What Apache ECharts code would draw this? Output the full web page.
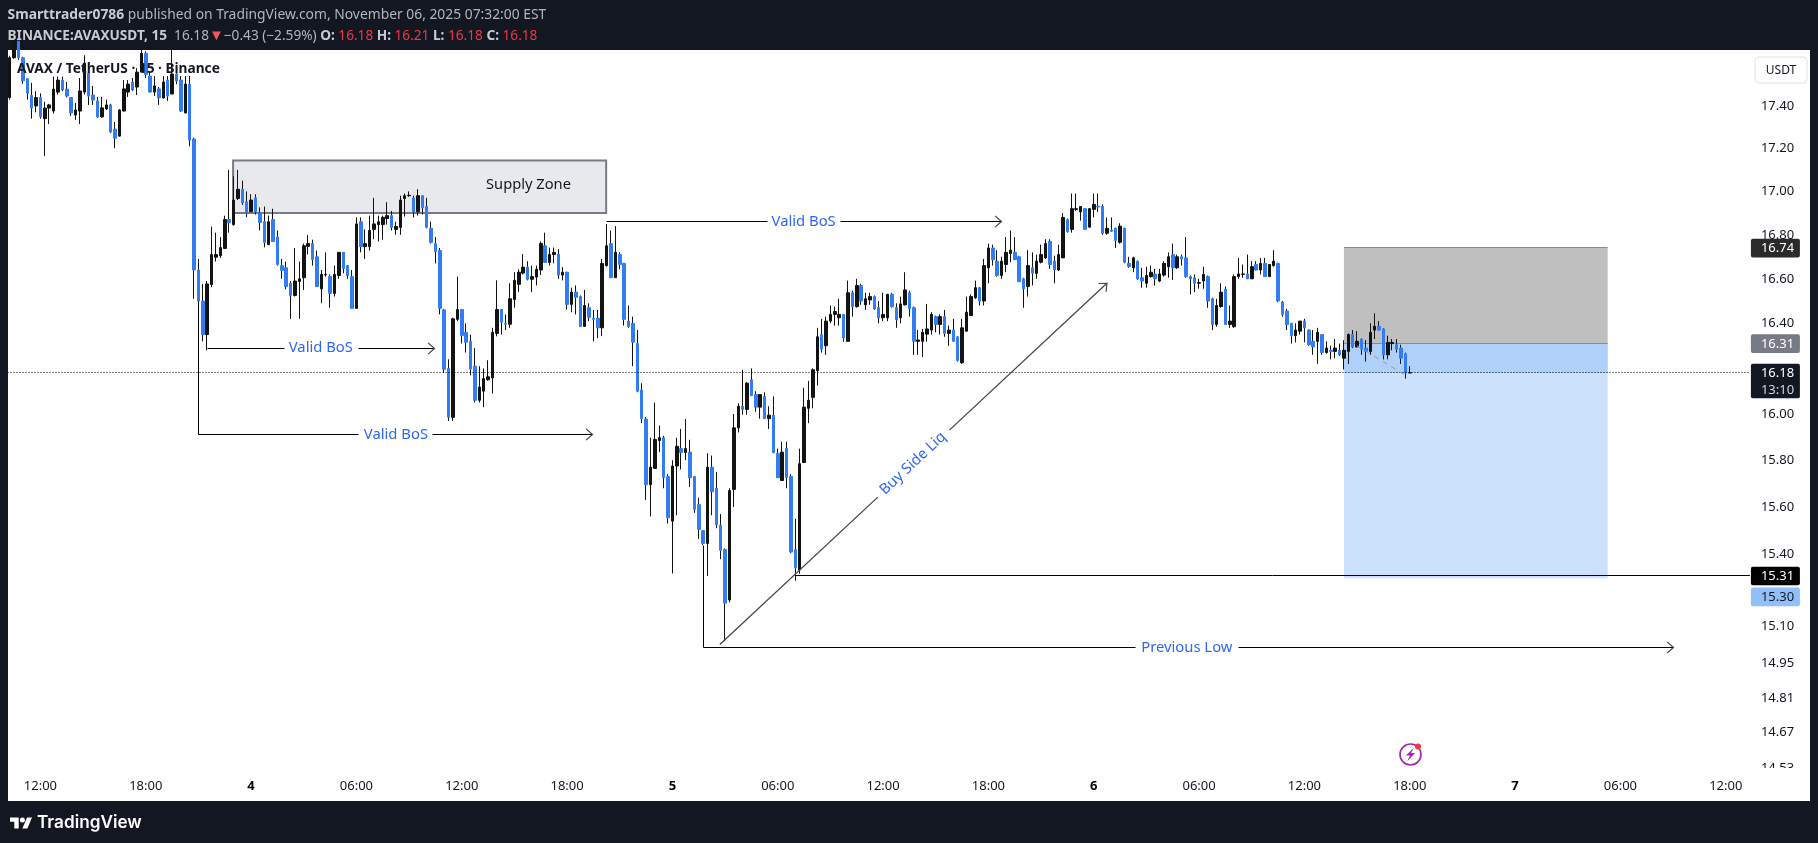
<!DOCTYPE html>
<html><head><meta charset="utf-8">
<style>html,body{margin:0;padding:0;background:#131722;overflow:hidden}#c{width:1818px;height:843px}</style>
<script src="https://cdn.jsdelivr.net/npm/echarts@6/dist/echarts.min.js"></script>
</head><body><div id="c"></div>
<script>
const opens=[17.44,17.63,17.71,17.63,17.53,17.45,17.40,17.44,17.34,17.39,17.376,17.466,17.523,17.48,17.44,17.357,17.376,17.466,17.556,17.452,17.424,17.348,17.386,17.405,17.291,17.258,17.376,17.466,17.514,17.49,17.561,17.651,17.542,17.466,17.481,17.438,17.523,17.457,17.552,17.523,17.367,17.504,17.244,
16.64,16.50,16.35,16.574,16.698,16.705,16.738,16.87,16.847,16.967,17.01,16.952,16.906,16.97,16.90,16.86,16.755,16.87,16.79,16.66,16.65,16.58,16.525,16.588,16.605,16.747,16.76,16.70,16.555,16.618,16.61,16.534,16.615,16.72,16.66,16.61,16.467,16.86,16.746,16.746,16.825,16.847,16.847,16.875,16.888,16.825,16.834,16.967,16.98,16.97,16.906,16.98,16.93,16.83,16.76,16.728,16.46,16.20,15.986,
16.418,16.462,16.36,16.32,16.21,16.06,16.10,16.15,16.158,16.355,16.462,16.40,16.396,16.507,16.575,16.626,16.653,16.598,16.608,16.64,16.75,16.674,16.71,16.712,16.617,16.63,16.485,16.54,16.52,16.386,16.47,16.423,16.423,16.38,16.66,16.76,16.605,16.71,16.67,16.41,16.40,16.31,16.105,
15.978,15.695,15.765,15.885,15.897,15.73,15.54,15.775,15.85,15.833,15.835,15.73,15.61,15.50,15.446,15.77,15.68,15.523,15.42,15.21,15.675,15.94,16.034,16.02,16.15,16.085,16.03,16.077,15.98,15.995,15.83,15.713,15.85,15.73,15.42,15.335,15.79,16.025,16.073,16.19,16.35,16.30,16.41,16.44,
16.425,16.44,16.32,16.537,16.475,16.57,16.483,16.505,16.52,16.47,16.425,16.425,16.53,16.47,16.425,16.483,16.537,16.47,16.32,16.32,16.352,16.37,16.43,16.395,16.43,16.355,16.37,16.34,16.225,16.365,16.435,16.515,16.56,16.50,16.65,16.74,16.68,16.615,16.665,16.715,16.72,16.70,16.60,16.565,16.65,16.625,16.675,16.695,16.77,16.68,16.64,16.695,16.87,16.825,16.917,16.905,16.92,16.835,
16.917,16.931,16.931,16.807,16.822,16.83,16.766,16.83,16.67,16.65,16.68,16.605,16.58,16.61,16.622,16.59,16.617,16.655,16.71,16.65,16.70,16.695,16.61,16.605,16.58,16.59,16.61,16.51,16.395,16.475,16.553,16.395,16.385,16.61,16.62,16.622,16.60,16.665,16.64,16.67,16.61,16.66,16.67,16.495,16.455,16.40,16.345,16.365,16.41,16.37,16.32,16.32,16.35,16.27,16.28,16.275,16.28,16.245,16.275,16.35,16.295,16.33,16.29,16.275,16.37,16.387,16.375,16.26,16.31,16.305,16.29,16.265,16.18];
const closes=[17.63,17.71,17.63,17.52,17.46,17.39,17.44,17.35,17.39,17.405,17.48,17.523,17.476,17.447,17.367,17.381,17.471,17.604,17.447,17.428,17.348,17.391,17.405,17.277,17.248,17.381,17.481,17.504,17.476,17.561,17.651,17.549,17.466,17.495,17.438,17.514,17.447,17.552,17.519,17.376,17.504,17.239,16.64,
16.50,16.35,16.577,16.71,16.71,16.742,16.87,16.856,16.96,17.01,16.947,16.90,16.96,16.906,16.856,16.765,16.86,16.77,16.665,16.638,16.565,16.525,16.59,16.60,16.75,16.76,16.688,16.565,16.62,16.62,16.534,16.62,16.72,16.647,16.615,16.467,16.85,16.746,16.76,16.82,16.85,16.86,16.88,16.888,16.834,16.838,16.96,16.98,16.982,16.906,16.98,16.925,16.834,16.765,16.724,16.467,16.196,15.986,16.42,
16.462,16.346,16.316,16.197,16.06,16.118,16.155,16.163,16.36,16.462,16.405,16.396,16.51,16.593,16.63,16.653,16.598,16.61,16.643,16.76,16.674,16.71,16.72,16.617,16.63,16.485,16.54,16.517,16.386,16.48,16.427,16.418,16.38,16.67,16.75,16.605,16.72,16.665,16.418,16.386,16.316,16.10,15.98,
15.695,15.77,15.89,15.897,15.725,15.555,15.775,15.86,15.833,15.85,15.725,15.59,15.505,15.446,15.77,15.665,15.525,15.417,15.197,15.67,15.94,16.034,16.02,16.135,16.08,16.03,16.085,15.98,15.995,15.833,15.725,15.835,15.725,15.41,15.343,15.785,16.03,16.06,16.194,16.34,16.285,16.41,16.44,16.453,
16.44,16.335,16.537,16.475,16.57,16.50,16.51,16.52,16.465,16.425,16.44,16.53,16.475,16.416,16.487,16.55,16.465,16.32,16.326,16.36,16.375,16.44,16.395,16.43,16.355,16.37,16.32,16.235,16.38,16.45,16.52,16.56,16.50,16.66,16.74,16.687,16.615,16.68,16.72,16.73,16.687,16.587,16.555,16.66,16.625,16.68,16.71,16.76,16.665,16.64,16.71,16.88,16.815,16.92,16.92,16.93,16.825,16.92,
16.94,16.928,16.807,16.83,16.817,16.775,16.84,16.675,16.656,16.695,16.60,16.59,16.615,16.63,16.60,16.622,16.67,16.70,16.65,16.70,16.69,16.61,16.60,16.58,16.583,16.62,16.50,16.395,16.48,16.54,16.395,16.41,16.61,16.622,16.622,16.60,16.655,16.64,16.67,16.61,16.665,16.68,16.50,16.44,16.395,16.345,16.37,16.41,16.38,16.305,16.295,16.36,16.27,16.29,16.275,16.29,16.26,16.28,16.35,16.295,16.32,16.285,16.275,16.36,16.387,16.37,16.26,16.315,16.315,16.285,16.245,16.18,16.181];
const lows=[17.43,17.625,17.62,17.505,17.43,17.34,17.37,17.34,17.165,17.315,17.364,17.454,17.47,17.44,17.353,17.334,17.315,17.454,17.405,17.405,17.343,17.345,17.381,17.272,17.201,17.255,17.375,17.443,17.47,17.452,17.56,17.533,17.465,17.447,17.405,17.435,17.424,17.455,17.504,17.372,17.365,17.21,16.51,
16.47,16.32,16.28,16.562,16.678,16.695,16.735,16.81,16.842,16.96,16.937,16.881,16.905,16.893,16.82,16.743,16.754,16.768,16.66,16.60,16.553,16.42,16.52,16.42,16.55,16.71,16.66,16.563,16.49,16.61,16.47,16.52,16.60,16.625,16.60,16.465,16.465,16.72,16.69,16.728,16.78,16.77,16.778,16.847,16.82,16.80,16.80,16.884,16.975,16.88,16.888,16.893,16.83,16.76,16.67,16.44,16.18,15.97,15.97,
16.41,16.31,16.27,16.17,16.05,16.05,16.03,16.146,16.09,16.342,16.35,16.37,16.38,16.47,16.54,16.62,16.593,16.54,16.57,16.617,16.674,16.66,16.67,16.60,16.593,16.462,16.45,16.44,16.385,16.385,16.41,16.32,16.334,16.343,16.655,16.605,16.605,16.643,16.39,16.38,16.21,16.095,15.96,
15.63,15.56,15.765,15.835,15.68,15.53,15.32,15.565,15.76,15.80,15.685,15.575,15.465,15.44,15.31,15.565,15.51,15.38,15.04,15.20,15.60,15.92,15.997,15.997,16.08,16.01,15.98,15.98,15.935,15.83,15.725,15.713,15.68,15.405,15.29,15.32,15.79,15.96,16.025,16.125,16.27,16.26,16.40,16.39,
16.39,16.318,16.32,16.43,16.47,16.483,16.46,16.483,16.46,16.40,16.41,16.41,16.47,16.38,16.40,16.48,16.43,16.26,16.26,16.25,16.318,16.35,16.36,16.35,16.34,16.30,16.318,16.23,16.22,16.365,16.435,16.51,16.48,16.48,16.58,16.66,16.61,16.60,16.63,16.675,16.685,16.587,16.47,16.52,16.57,16.60,16.67,16.69,16.645,16.58,16.635,16.695,16.81,16.81,16.91,16.865,16.825,16.835,
16.88,16.905,16.80,16.80,16.814,16.74,16.76,16.67,16.65,16.63,16.595,16.56,16.56,16.605,16.57,16.585,16.61,16.605,16.595,16.645,16.66,16.605,16.53,16.54,16.555,16.555,16.47,16.37,16.385,16.47,16.395,16.38,16.38,16.60,16.605,16.60,16.60,16.638,16.62,16.61,16.61,16.655,16.495,16.43,16.37,16.31,16.315,16.35,16.315,16.30,16.26,16.22,16.26,16.265,16.24,16.245,16.255,16.195,16.22,16.29,16.293,16.26,16.23,16.26,16.33,16.368,16.24,16.24,16.28,16.27,16.22,16.155,16.18];
const highs=[17.64,17.72,17.72,17.635,17.53,17.51,17.47,17.46,17.42,17.41,17.54,17.54,17.54,17.514,17.44,17.414,17.533,17.642,17.58,17.495,17.443,17.443,17.43,17.41,17.324,17.385,17.523,17.523,17.533,17.58,17.667,17.66,17.564,17.542,17.49,17.542,17.542,17.667,17.58,17.542,17.542,17.542,17.25,
16.69,16.577,16.59,16.838,16.81,16.79,16.888,17.10,17.07,17.10,17.05,17.0,16.987,16.987,16.926,16.93,16.888,16.92,16.82,16.69,16.678,16.59,16.74,16.678,16.76,16.80,16.778,16.728,16.64,16.72,16.62,16.66,16.722,16.722,16.662,16.64,16.88,16.88,16.825,16.888,16.97,16.888,16.888,16.95,16.91,16.86,16.98,16.99,17.0,16.98,17.01,16.982,16.97,16.86,16.79,16.74,16.465,16.24,16.425,
16.61,16.464,16.40,16.35,16.29,16.21,16.20,16.236,16.38,16.593,16.464,16.44,16.58,16.63,16.643,16.712,16.68,16.66,16.66,16.77,16.81,16.742,16.742,16.735,16.653,16.632,16.56,16.57,16.525,16.55,16.49,16.46,16.46,16.69,16.85,16.82,16.84,16.72,16.672,16.48,16.43,16.37,16.135,
15.987,15.897,16.05,15.95,15.905,15.74,15.80,15.897,15.935,15.978,15.888,15.733,15.64,15.50,15.83,15.82,15.75,15.57,15.425,15.68,16.0,16.047,16.194,16.14,16.20,16.10,16.087,16.095,16.034,16.077,15.85,15.88,15.88,15.74,15.55,15.85,16.115,16.145,16.20,16.38,16.42,16.43,16.48,16.475,
16.51,16.44,16.592,16.546,16.60,16.578,16.537,16.537,16.525,16.50,16.537,16.532,16.537,16.49,16.52,16.63,16.546,16.475,16.37,16.375,16.487,16.45,16.435,16.44,16.46,16.39,16.42,16.343,16.42,16.52,16.53,16.592,16.562,16.69,16.76,16.755,16.73,16.70,16.79,16.82,16.79,16.705,16.605,16.73,16.72,16.71,16.755,16.78,16.78,16.705,16.755,16.90,16.875,16.99,16.99,16.93,16.922,16.922,
16.99,16.99,16.94,16.88,16.88,16.833,16.853,16.833,16.70,16.70,16.683,16.65,16.655,16.66,16.645,16.645,16.68,16.72,16.76,16.71,16.71,16.79,16.615,16.62,16.60,16.655,16.615,16.515,16.51,16.58,16.565,16.48,16.62,16.695,16.665,16.71,16.68,16.68,16.695,16.695,16.667,16.73,16.673,16.50,16.465,16.40,16.40,16.41,16.42,16.373,16.37,16.38,16.35,16.32,16.30,16.33,16.31,16.325,16.355,16.37,16.365,16.332,16.325,16.40,16.445,16.41,16.378,16.345,16.33,16.33,16.305,16.27,16.21];

const priceTicks=[17.40,17.20,17.00,16.80,16.60,16.40,16.00,15.80,15.60,15.40,15.10,14.95,14.81,14.67,14.53];
const slotCount=397;
const firstBarHour=10.25;

/* annotations, in [bar index, price] */
const supplyZone={x:[50.9,135.9],price:[17.144,16.90],label:'Supply Zone',labelAt:[118.2,17.03]};
const positionBox={x:[304,364.1],target:16.74,entry:16.31,stop:15.30,last:16.18};
const arrows=[
 {a:[[45,16.29],[62.5,16.29]],b:[[79.4,16.29],[96.9,16.29]],label:'Valid BoS',at:[70.9,16.29]},
 {a:[[43,16.50],[43,15.91],[79.5,15.91]],b:[[96.4,15.91],[132.9,15.91]],label:'Valid BoS',at:[88,15.91]},
 {a:[[135.9,16.86],[172.6,16.86]],b:[[189.4,16.86],[226,16.86]],label:'Valid BoS',at:[180.9,16.86]},
 {a:[[158,15.438],[158,15.014],[256.6,15.014]],b:[[279.9,15.014],[379,15.014]],label:'Previous Low',at:[268.2,15.014]},
 {a:[[161.8,15.027],[197.8,15.642]],b:[[214.1,15.93],[250,16.58]],label:'Buy Side Liq',at:[205.8,15.786],slanted:true}
];
const levelLine={from:178.9,to:396.5,price:15.31};
const projection=[[307,16.30],[318,16.17]];
const priceTags=[
 {text:'16.74',price:16.74,bg:'#2a2a2a',fg:'#ffffff'},
 {text:'16.31',price:16.31,bg:'#787b86',fg:'#ffffff'},
 {text:'16.18',sub:'13:10',price:16.18,bg:'#131722',fg:'#ffffff'},
 {text:'15.31',price:15.31,bg:'#000000',fg:'#ffffff'},
 {text:'15.30',price:15.30,bg:'#90bff9',fg:'#131722',shift:18.5}
];

const categories=[];
for(let i=0;i<slotCount;i++){
  const m=firstBarHour*60+15*i;
  const day=3+Math.floor(m/1440),mm=m%1440,h=Math.floor(mm/60),n=mm%60;
  categories.push(day+' '+String(h).padStart(2,'0')+':'+String(n).padStart(2,'0'));
}
const FONT='"Noto Sans", sans-serif';
const INK='#131722',BLUE='#327cf5',BLACK='#131313',TEXTBLUE='#2f66f5';
const crisp=v=>Math.round(v-0.5)+0.5;

function tickOf(cat){
  const [d,t]=cat.split(' ');const [h,m]=t.split(':').map(Number);
  if(m!==0||h%6!==0)return null;
  return h===0?'{d|'+d+'}':t;
}

const chart=echarts.init(document.getElementById('c'),null,{renderer:'canvas',width:1818,height:843});

function backLayer(params,api){
  const kids=[];
  const rect=(x0,x1,p0,p1,fill)=>{
    const a=api.coord([x0,p0]),b=api.coord([x1,p1]);
    return {type:'rect',shape:{x:a[0],y:a[1],width:b[0]-a[0],height:b[1]-a[1]},style:{fill}};
  };
  const pb=positionBox;
  kids.push(rect(pb.x[0],pb.x[1],pb.target,pb.entry,'#bfbfbf'));
  kids.push(rect(pb.x[0],pb.x[1],pb.entry,pb.stop,'#cce1fb'));
  kids.push(rect(pb.x[0],pb.x[1],pb.entry,pb.last,'#aed0f9'));
  for(const p of [pb.target,pb.entry]){
    const a=api.coord([pb.x[0],p]),b=api.coord([pb.x[1],p]);
    kids.push({type:'line',shape:{x1:a[0],y1:crisp(a[1]),x2:b[0],y2:crisp(a[1])},style:{stroke:'#8c8c8c',lineWidth:1}});
  }
  const z=supplyZone,a=api.coord([z.x[0],z.price[0]]),b=api.coord([z.x[1],z.price[1]]);
  kids.push({type:'rect',shape:{x:a[0],y:a[1],width:b[0]-a[0],height:b[1]-a[1]},style:{fill:'#e8e9ed',stroke:'#787b86',lineWidth:2}});
  const t=api.coord(z.labelAt);
  kids.push({type:'text',x:t[0],y:t[1],style:{text:z.label,fill:INK,font:'14.7px '+FONT,align:'center',verticalAlign:'middle'}});
  return {type:'group',children:kids};
}

function chevron(tip,from){
  const ang=Math.atan2(from[1]-tip[1],from[0]-tip[0]),L=8.5,w=0.72;
  return [[tip[0]+L*Math.cos(ang+w),tip[1]+L*Math.sin(ang+w)],tip,[tip[0]+L*Math.cos(ang-w),tip[1]+L*Math.sin(ang-w)]];
}

function frontLayer(params,api){
  const g=params.coordSys,kids=[];
  const rightX=g.x+g.width;
  const ly=crisp(api.coord([0,positionBox.last])[1]);
  kids.push({type:'line',shape:{x1:g.x,y1:ly,x2:rightX,y2:ly},style:{stroke:'#000',lineWidth:1,lineDash:[1,2]}});
  const l0=api.coord([levelLine.from,levelLine.price]),l1=api.coord([levelLine.to,levelLine.price]);
  kids.push({type:'line',shape:{x1:l0[0],y1:crisp(l0[1]),x2:l1[0],y2:crisp(l0[1])},style:{stroke:'#000',lineWidth:1}});
  const p0=api.coord(projection[0]),p1=api.coord(projection[1]);
  kids.push({type:'line',shape:{x1:p0[0],y1:p0[1],x2:p1[0],y2:p1[1]},style:{stroke:'#9a9ca3',lineWidth:1,lineDash:[5,5]}});
  for(const ar of arrows){
    const col=ar.slanted?'#434651':'#000',lw=ar.slanted?1.3:1;
    const fix=pts=>pts.map(p=>{const c=api.coord(p);return ar.slanted?c:[crisp(c[0]),crisp(c[1])];});
    const A=fix(ar.a),B=fix(ar.b);
    kids.push({type:'polyline',shape:{points:A},style:{stroke:col,lineWidth:lw,fill:'none'}});
    kids.push({type:'polyline',shape:{points:B},style:{stroke:col,lineWidth:lw,fill:'none'}});
    kids.push({type:'polyline',shape:{points:chevron(B[B.length-1],B[0])},style:{stroke:'#434651',lineWidth:1.2,fill:'none'}});
    const t=api.coord(ar.at);
    const lab={type:'text',x:t[0],y:t[1],style:{text:ar.label,fill:TEXTBLUE,font:'14.8px '+FONT,align:'center',verticalAlign:'middle'}};
    if(ar.slanted)lab.rotation=Math.atan2(A[0][1]-B[1][1],B[1][0]-A[0][0]);
    kids.push(lab);
  }
  kids.push({type:'rect',shape:{x:rightX+1,y:g.y+g.height,width:58,height:10},style:{fill:'#fff'}});
  for(const tag of priceTags){
    const cy=api.coord([0,tag.price])[1]+(tag.shift||0);
    const h=tag.sub?34.7:18.7,top=cy-9.3;
    kids.push({type:'rect',shape:{x:rightX+1,y:top,width:49,height:h,r:2},style:{fill:tag.bg}});
    kids.push({type:'text',x:rightX+11,y:cy+0.5,style:{text:tag.text,fill:tag.fg,font:'13px '+FONT,align:'left',verticalAlign:'middle'}});
    if(tag.sub)kids.push({type:'text',x:rightX+11,y:cy+17,style:{text:tag.sub,fill:'#d1d4dc',font:'13px '+FONT,align:'left',verticalAlign:'middle'}});
  }
  return {type:'group',children:kids};
}

chart.setOption({
  backgroundColor:'#131722',
  animation:false,
  grid:{left:7.5,top:50,width:1742.4,height:718,containLabel:false,show:false},
  xAxis:[{
    type:'category',data:categories,boundaryGap:true,
    axisLine:{show:false},axisTick:{show:false},splitLine:{show:false},
    axisLabel:{
      interval:(i,v)=>tickOf(v)!==null,
      formatter:v=>tickOf(v)||'',
      color:INK,fontFamily:FONT,fontSize:13,margin:12,hideOverlap:false,
      rich:{d:{fontWeight:'bold',color:'#000',fontSize:13,fontFamily:FONT}}
    }
  },{type:'value',show:false,min:-0.5,max:slotCount-0.5,splitLine:{show:false}}],
  yAxis:{
    type:'log',logBase:10,position:'right',min:14.5299,max:17.6672,
    axisLine:{show:false},axisTick:{show:false},splitLine:{show:false},minorTick:{show:false},minorSplitLine:{show:false},
    axisLabel:{customValues:priceTicks,color:INK,fontFamily:FONT,fontSize:13,margin:11,formatter:v=>Number(v).toFixed(2)}
  },
  series:[
   {type:'custom',name:'zones',xAxisIndex:1,yAxisIndex:0,z:1,clip:false,silent:true,data:[[0,16]],renderItem:backLayer},
   {type:'candlestick',name:'AVAXUSDT',xAxisIndex:0,yAxisIndex:0,z:2,barWidth:1,clip:true,silent:true,
    data:opens.map((o,i)=>[o,closes[i],lows[i],highs[i]]),
    itemStyle:{color:BLACK,color0:BLACK,borderColor:BLACK,borderColor0:BLACK,borderWidth:1}},
   {type:'candlestick',name:'bodies',xAxisIndex:0,yAxisIndex:0,z:2.5,barWidth:3,clip:true,silent:true,
    data:opens.map((o,i)=>[o,closes[i],Math.min(o,closes[i]),Math.max(o,closes[i])]),
    itemStyle:{color:BLACK,color0:BLUE,borderColor:BLACK,borderColor0:BLUE,borderWidth:1}},
   {type:'custom',name:'drawings',xAxisIndex:1,yAxisIndex:0,z:3,clip:false,silent:true,data:[[0,16]],renderItem:frontLayer}
  ],
  graphic:[
   {type:'rect',z:-1,silent:true,shape:{x:8,y:50,width:1802,height:751},style:{fill:'#ffffff'}},
   {type:'text',z:5,x:7.5,y:8.5,silent:true,style:{
     text:'{b|Smarttrader0786}{n| published on TradingView.com, November 06, 2025 07:32:00 EST}',
     rich:{b:{font:'bold 13.85px '+FONT,fill:'#c8cbd3'},n:{font:'13.85px '+FONT,fill:'#b2b5be'}}}},
   {type:'text',z:5,x:7.5,y:28.5,silent:true,style:{
     text:'{b|BINANCE:AVAXUSDT, 15}{n|  16.18}{t|▼}{n|−0.43 (−2.59%) }{b|O:}{r| 16.18 }{b|H:}{r| 16.21 }{b|L:}{r| 16.18 }{b|C:}{r| 16.18}',
     rich:{b:{font:'bold 13.65px '+FONT,fill:'#c8cbd3'},n:{font:'13.65px '+FONT,fill:'#b2b5be'},r:{font:'13.65px '+FONT,fill:'#f23645'},t:{font:'15px '+FONT,fill:'#f7525f'}}}},
   {type:'text',z:5,x:17,y:62,silent:true,style:{text:'AVAX / TetherUS · 15 · Binance',font:'bold 13.7px '+FONT,fill:'#131722'}},
   {type:'rect',z:5,silent:true,shape:{x:1755,y:57,width:52,height:26,r:4},style:{fill:'#fff',stroke:'#e0e3eb',lineWidth:1}},
   {type:'text',z:6,x:1781,y:70.5,silent:true,style:{text:'USDT',font:'12px '+FONT,fill:'#131722',align:'center',verticalAlign:'middle'}},
   {type:'circle',z:5,silent:true,shape:{cx:1410.5,cy:754.5,r:10.5},style:{fill:'none',stroke:'#9c27b0',lineWidth:1.6}},
   {type:'polygon',z:5,silent:true,shape:{points:[[1414,747.5],[1406,755.5],[1410,755.5],[1407,761.5],[1415,753],[1411,753]]},style:{fill:'#9c27b0'}},
   {type:'circle',z:6,silent:true,shape:{cx:1418,cy:746.5,r:3},style:{fill:'#f23645'}},
   {type:'polygon',z:5,silent:true,shape:{points:[[10,817.5],[18.7,817.5],[18.7,828.6],[14.3,828.6],[14.3,821.8],[10,821.8]]},style:{fill:'#ffffff'}},
   {type:'polygon',z:5,silent:true,shape:{points:[[27,817.5],[32,817.5],[27.4,828.6],[22.4,828.6]]},style:{fill:'#ffffff'}},
   {type:'circle',z:5,silent:true,shape:{cx:22.4,cy:820,r:2.5},style:{fill:'#ffffff'}},
   {type:'text',z:5,x:37,y:814,silent:true,style:{text:'TradingView',font:'600 17.2px Inter, sans-serif',fill:'#ffffff'}}
  ]
});
</script></body></html>
